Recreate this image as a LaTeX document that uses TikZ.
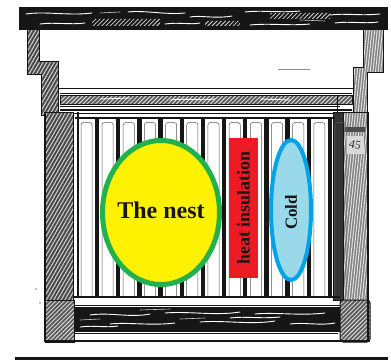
\documentclass[tikz,border=0pt]{standalone}
\usepackage{fontspec}
\setmainfont{Liberation Serif}
\usetikzlibrary{shapes.geometric,patterns.meta}
\definecolor{nestgreen}{RGB}{34,177,76}
\definecolor{nestyellow}{RGB}{255,242,0}
\definecolor{insred}{RGB}{237,28,36}
\definecolor{coldedge}{RGB}{0,162,232}
\definecolor{coldfill}{RGB}{153,217,234}
\definecolor{ink}{RGB}{22,22,22}

\begin{document}
\begin{tikzpicture}[x=1pt,y=-1pt,
  board/.style={fill=ink, draw=ink, line width=1},
  grain/.style={draw=white, line width=0.9, line cap=round},
  fgrain/.style={draw=white!80!black, line width=0.6, line cap=round},
  hatchwood/.style={preaction={fill=black!72}, pattern={Lines[angle=60,distance=3.2pt,line width=1.1pt]}, pattern color=white!80!black, draw=ink, line width=1},
  streakwood/.style={preaction={fill=black!50}, pattern={Lines[angle=84,distance=2.6pt,line width=1pt]}, pattern color=white!90!black, draw=ink, line width=1},
  crosswood/.style={preaction={fill=black!65}, pattern={Lines[angle=45,distance=3pt,line width=1pt]}, pattern color=white!85!black, draw=ink, line width=1},
  thin/.style={draw=ink, line width=0.8},
  rail/.style={draw=ink, line width=1.3},
  label/.style={font=\bfseries, text=ink, inner sep=0pt}
]
\useasboundingbox (0,0) rectangle (391,361);
\fill[white] (0,0) rectangle (391,361);

% ---------- lid ----------
\draw[board] (19,8) rectangle (387,30);
\fill[pattern={Lines[angle=45,distance=3pt,line width=0.8pt]}, pattern color=white!85!black]
  (92,19) rectangle (160,26)  (270,13) rectangle (330,19)  (205,21) rectangle (240,26);
\draw[grain] (26,14) .. controls (45,11) and (70,16) .. (92,13);
\draw[grain] (128,12) .. controls (145,10) and (165,15) .. (185,13);
\draw[grain] (190,17) .. controls (200,15) and (215,19) .. (232,16);
\draw[grain] (245,12) .. controls (262,10) and (280,13) .. (300,11);
\draw[grain] (330,15) .. controls (345,13) and (360,16) .. (380,14);
\draw[grain] (40,24) .. controls (55,22) and (70,25) .. (85,23);
\draw[grain] (165,24) .. controls (180,22) and (190,25) .. (200,23);
\draw[grain] (250,25) .. controls (270,23) and (290,26) .. (310,24);
\draw[grain] (335,23) .. controls (350,21) and (365,24) .. (378,22);
\draw[fgrain] (100,13) -- (120,12);
\draw[fgrain] (300,20) -- (325,21);

% ---------- super (upper box) ----------
\draw[hatchwood] (27,30) -- (39,30) -- (39,62) -- (58,62) -- (58,115) -- (41,115) -- (41,75) -- (27,75) -- cycle;
\draw[streakwood] (363,30) -- (383,30) -- (383,73) -- (367,73) -- (367,112) -- (353,112) -- (353,68) -- (363,68) -- cycle;
\draw[black!45, line width=0.6] (278,69) -- (310,69);
\draw[thin] (58,88) -- (353,88);
\draw[thin] (60,93) -- (352,93);
\path[crosswood] (60,95) rectangle (352,104);
\draw[grain] (100,99) -- (130,98);
\draw[grain] (170,100) .. controls (185,98) and (200,101) .. (215,99);
\draw[grain] (260,99) -- (290,100);
\draw[thin] (60,106) -- (340,106);
\draw[rail] (60,110) -- (352,110);
\draw[thin] (337,95) -- (337,112);

% ---------- brood box walls ----------
\draw[hatchwood] (45,112) rectangle (73,300);
\draw[line width=1.2, ink] (78,112) -- (78,297);
\path[fill=black!80, draw=ink, line width=1] (333,112) rectangle (343,300);
\draw[streakwood] (343,112) rectangle (367,300);
\fill[black!70] (345,127) rectangle (365,132);
\fill[white!85!black] (346,136) rectangle (364,154);
\node[font=\fontsize{12}{12}\selectfont, text=black!80, rotate=-12, inner sep=0pt] (num) at (355,145) {45};

% ---------- frames (slats) ----------
\draw[rail] (75,118) -- (335,118);
\draw[thin] (73,113) -- (335,113);
\foreach \k in {0,...,11}{
  \pgfmathsetmacro\xk{97+21.18*\k}
  \fill[ink] (\xk-2.2,118) rectangle (\xk+2.2,297);
  \draw[line width=0.5, black!65, rounded corners=2.5pt]
    (\xk+5,297) -- (\xk+5,122.5) -- (\xk+16.18,122.5) -- (\xk+16.18,297);
}
\draw[line width=0.5, black!65, rounded corners=2.5pt] (81,297) -- (81,122.5) -- (92,122.5) -- (92,297);

% ---------- bottom ----------
\draw[rail] (73,297) -- (340,297);
\draw[thin] (75,305) -- (340,305);
\draw[board] (75,307) rectangle (343,331);
\draw[grain] (90,315) .. controls (110,312) and (130,318) .. (150,314);
\draw[grain] (110,324) .. controls (130,322) and (150,326) .. (175,323);
\draw[grain] (165,313) .. controls (190,311) and (215,316) .. (240,312);
\draw[grain] (200,322) .. controls (225,320) and (250,325) .. (275,321);
\draw[grain] (255,314) .. controls (275,312) and (300,316) .. (325,313);
\draw[grain] (290,324) .. controls (305,322) and (320,326) .. (335,323);
\draw[grain] (80,327) .. controls (95,325) and (105,328) .. (118,326);
\draw[grain] (230,318) .. controls (245,316) and (260,319) .. (280,317);
\draw[fgrain] (80,320) -- (100,319);
\draw[fgrain] (180,319) -- (205,318);
\draw[fgrain] (140,310) -- (170,309);
\draw[thin] (75,333) -- (338,333);
\draw[crosswood] (45,300) rectangle (74,342);
\draw[crosswood, rounded corners=3pt] (340,300) -- (370,300) -- (370,342) -- (340,342) -- cycle;
\draw[rail] (45,341) -- (370,341);
\draw[line width=2, ink] (45,112) -- (45,342);
\draw[line width=2, ink] (368,112) -- (368,342);

% stray specks
\fill[black!45] (36,289) circle (0.8) (40,303) circle (0.8);

% ---------- ground line ----------
\coordinate (gl) at (15,358.5);
\coordinate (gr) at (388,358.5);
\draw[line width=3, ink] (gl) -- (gr);

% ---------- overlays ----------
\node[ellipse, draw=nestgreen, fill=nestyellow, line width=5, inner sep=0pt,
      minimum width=117pt, minimum height=144pt] (nest) at (161,212.5) {};
\node[label, font=\fontsize{24}{24}\selectfont\bfseries, anchor=base] (nestlbl) at (161,218) {The nest};

\node[fill=insred, inner sep=0pt, minimum width=29pt, minimum height=140pt] (ins) at (243.5,208) {};
\node[label, font=\fontsize{18}{18}\selectfont\bfseries, rotate=90] (inslbl) at (ins.center) {heat insulation};

\node[ellipse, draw=coldedge, fill=coldfill, line width=4, inner sep=0pt,
      minimum width=40pt, minimum height=140pt] (cold) at (291,210) {};
\node[label, font=\fontsize{17}{17}\selectfont\bfseries, rotate=90] (coldlbl) at (291,212.5) {Cold};
\end{tikzpicture}
\end{document}
